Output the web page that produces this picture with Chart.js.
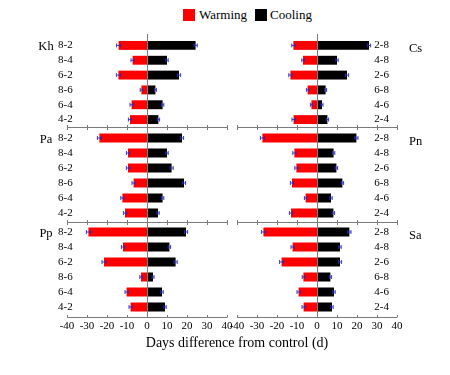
<!DOCTYPE html>
<html>
<head>
<meta charset="utf-8">
<script src="https://cdn.jsdelivr.net/npm/chart.js@4/dist/chart.umd.min.js"></script>
<style>
  html, body { margin:0; padding:0; background:#fff; }
  #wrap { position:relative; width:450px; height:375px; overflow:hidden; font-family:"Liberation Serif","Times New Roman",serif; }
  canvas { position:absolute; left:0; top:0; }
  .lg { position:absolute; font-size:13px; color:#000; line-height:14px; }
  .sq { position:absolute; width:12px; height:12px; }
  #xt { position:absolute; left:137px; width:200px; top:335px; text-align:center; font-size:14px; color:#000; white-space:nowrap; }
</style>
</head>
<body>
<div id="wrap">
  <div class="sq" style="left:183px;top:9px;background:#ff0000;"></div>
  <div class="lg" style="left:199px;top:8px;">Warming</div>
  <div class="sq" style="left:255px;top:9px;background:#000;"></div>
  <div class="lg" style="left:270px;top:8px;">Cooling</div>
  <canvas id="c0" width="450" height="375"></canvas>
  <canvas id="c1" width="450" height="375"></canvas>
  <canvas id="c2" width="450" height="375"></canvas>
  <canvas id="c3" width="450" height="375"></canvas>
  <canvas id="c4" width="450" height="375"></canvas>
  <canvas id="c5" width="450" height="375"></canvas>
  <div id="xt">Days difference from control (d)</div>
</div>
<script>
// ---- data ----
const leftCats  = ['8-2','8-4','6-2','8-6','6-4','4-2'];
const rightCats = ['2-8','4-8','2-6','6-8','4-6','2-4'];
const xTicks = [-40,-30,-20,-10,0,10,20,30,40];

const khWarm = [-14.2,-7.2,-14.3,-2.8,-7.7,-8.5];
const khCool = [24.3,10.0,16.0,4.2,7.8,5.7];
const csWarm = [-11.8,-7.0,-13.3,-4.7,-2.8,-11.7];
const csCool = [26.0,10.0,15.0,4.3,2.5,5.2];
const paWarm = [-23.8,-9.5,-9.5,-6.7,-12.3,-11.0];
const paCool = [17.5,10.0,12.3,18.5,7.8,5.5];
const pnWarm = [-27.3,-11.3,-10.3,-12.5,-5.7,-13.0];
const pnCool = [19.7,8.3,9.7,12.7,7.0,8.2];
const ppWarm = [-29.3,-12.0,-21.5,-3.0,-10.2,-8.2];
const ppCool = [19.5,11.2,14.3,3.0,7.5,9.0];
const saWarm = [-26.8,-12.2,-17.7,-6.8,-9.2,-6.7];
const saCool = [16.2,11.5,11.5,6.7,8.5,7.5];

const khWarmErr = [1.0,0.8,1.0,0.6,0.8,0.8];
const khCoolErr = [0.8,0.6,0.8,0.5,0.6,0.6];
const csWarmErr = [0.8,0.6,0.8,0.6,0.5,0.8];
const csCoolErr = [0.8,0.6,0.8,0.5,0.5,0.6];
const paWarmErr = [1.0,0.8,0.8,0.8,0.8,0.8];
const paCoolErr = [0.8,0.6,0.8,0.8,0.6,0.6];
const pnWarmErr = [1.0,0.8,0.8,0.8,0.6,0.8];
const pnCoolErr = [0.8,0.6,0.6,0.6,0.6,0.6];
const ppWarmErr = [1.0,0.8,1.0,0.6,0.8,0.8];
const ppCoolErr = [0.8,0.6,0.8,0.5,0.6,0.6];
const saWarmErr = [1.0,0.8,1.0,0.6,0.8,0.8];
const saCoolErr = [0.8,0.6,0.8,0.6,0.6,0.6];

const names = ['Kh','Cs','Pa','Pn','Pp','Sa'];

// ---- layout (styles) ----
const FONT = '"Liberation Serif", "Times New Roman", serif';
const cols = [{left:67, right:227, side:'left'}, {left:237, right:397, side:'right'}];
const rows = [
  {top:38,    bottom:127,   lineTop:34,  lineY:127, axis:false},
  {top:130.5, bottom:220.5, lineTop:127, lineY:222, axis:false},
  {top:224.5, bottom:314.5, lineTop:222, lineY:317, axis:true}
];

const framePlugin = {
  id:'frame',
  afterDatasetsDraw(chart, args, opts) {
    const ctx = chart.ctx, xs = chart.scales.x;
    ctx.save();
    ctx.strokeStyle = 'rgba(40,40,190,0.9)';
    ctx.lineWidth = 1;
    chart.data.datasets.forEach((ds, di) => {
      const meta = chart.getDatasetMeta(di);
      meta.data.forEach((el, i) => {
        const v = ds.data[i], e = ds.err[i];
        const x1 = xs.getPixelForValue(v - e), x2 = xs.getPixelForValue(v + e);
        const y = el.y;
        ctx.beginPath();
        ctx.moveTo(x1, y); ctx.lineTo(x2, y);
        ctx.moveTo(x1, y - 2); ctx.lineTo(x1, y + 2);
        ctx.moveTo(x2, y - 2); ctx.lineTo(x2, y + 2);
        ctx.stroke();
      });
    });
    ctx.restore();
  },
  afterDraw(chart, args, opts) {
    const ctx = chart.ctx, xs = chart.scales.x, ys = chart.scales.y;
    const area = chart.chartArea;
    ctx.save();
    ctx.strokeStyle = '#7a7a7a';
    ctx.lineWidth = 1;
    const x0 = Math.round(xs.getPixelForValue(0)) + 0.5;
    ctx.beginPath();
    ctx.moveTo(x0, opts.lineTop); ctx.lineTo(x0, opts.lineY);
    ctx.stroke();
    const ly = Math.round(opts.lineY) + 0.5;
    ctx.beginPath();
    ctx.moveTo(area.left, ly); ctx.lineTo(area.right, ly);
    opts.ticks.forEach(t => {
      const tx = Math.round(xs.getPixelForValue(t)) + 0.5;
      ctx.moveTo(tx, ly - 2.5); ctx.lineTo(tx, ly + (opts.axis ? 0 : 2.5));
    });
    ctx.stroke();
    ctx.fillStyle = '#000';
    ctx.font = '12.5px ' + FONT;
    ctx.textBaseline = 'middle';
    const y0 = ys.getPixelForValue(0);
    if (opts.side === 'left') {
      ctx.textAlign = 'center';
      ctx.fillText(opts.name, 46, y0 + 1.5);
    } else {
      ctx.textAlign = 'left';
      ctx.fillText(opts.name, 409, y0 + 3.5);
    }
    ctx.restore();
  }
};

function makePanel(id, cats, warm, cool, warmErr, coolErr, name, col, row) {
  const c = cols[col], r = rows[row];
  const yW = 30;
  const xH = 20;
  const padding = {
    top: r.top,
    bottom: 375 - r.bottom - (r.axis ? xH : 0),
    left: c.side === 'left' ? c.left - yW : c.left,
    right: c.side === 'left' ? 450 - c.right : 450 - c.right - yW
  };
  new Chart(document.getElementById(id), {
    type:'bar',
    data:{
      labels: cats,
      datasets:[
        {label:'Warming', data: warm, err: warmErr, backgroundColor:'#ff0000', borderWidth:0},
        {label:'Cooling', data: cool, err: coolErr, backgroundColor:'#000000', borderWidth:0}
      ]
    },
    options:{
      indexAxis:'y',
      responsive:false,
      animation:false,
      events:[],
      layout:{padding},
      datasets:{bar:{categoryPercentage:1.0, barPercentage:0.6}},
      plugins:{
        legend:{display:false},
        tooltip:{enabled:false},
        frame:{name, side:c.side, lineTop:r.lineTop, lineY:r.lineY, axis:r.axis, ticks:xTicks}
      },
      scales:{
        x:{
          type:'linear', stacked:true, min:-40, max:40,
          display: r.axis,
          afterFit: s => { s.height = r.axis ? xH : 0; },
          border:{display:false},
          grid:{display:false, drawTicks:false},
          afterBuildTicks: s => { s.ticks = xTicks.map(v => ({value:v})); },
          ticks:{autoSkip:false, maxRotation:0, padding:5, color:'#000', font:{family:FONT, size:11}}
        },
        y:{
          type:'category', stacked:true, position:c.side,
          afterFit: s => { s.width = yW; },
          border:{display:false},
          grid:{display:false, drawTicks:false},
          ticks:{autoSkip:false, mirror:true, padding:c.side === 'left' ? -9 : -8, color:'#000', font:{family:FONT, size:11}}
        }
      }
    },
    plugins:[framePlugin]
  });
}

makePanel('c0', leftCats,  khWarm, khCool, khWarmErr, khCoolErr, names[0], 0, 0);
makePanel('c1', rightCats, csWarm, csCool, csWarmErr, csCoolErr, names[1], 1, 0);
makePanel('c2', leftCats,  paWarm, paCool, paWarmErr, paCoolErr, names[2], 0, 1);
makePanel('c3', rightCats, pnWarm, pnCool, pnWarmErr, pnCoolErr, names[3], 1, 1);
makePanel('c4', leftCats,  ppWarm, ppCool, ppWarmErr, ppCoolErr, names[4], 0, 2);
makePanel('c5', rightCats, saWarm, saCool, saWarmErr, saCoolErr, names[5], 1, 2);
</script>
</body>
</html>
